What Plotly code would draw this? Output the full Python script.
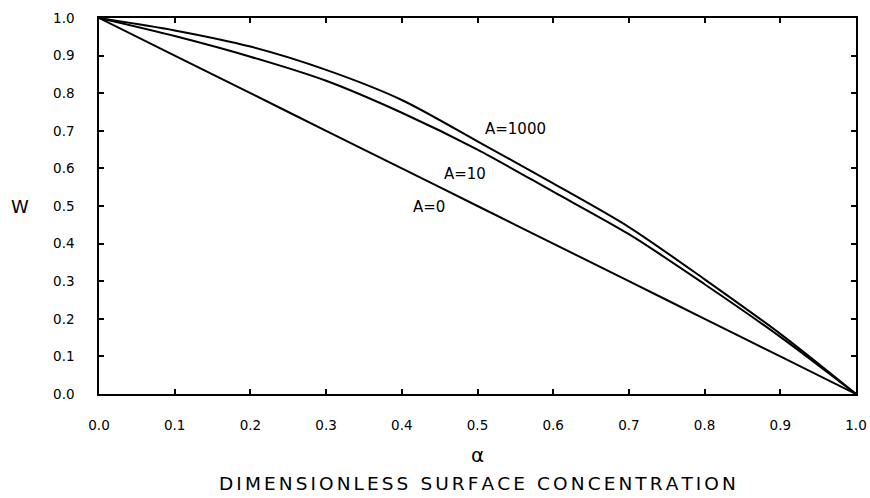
import plotly.graph_objects as go

alpha = [0.0, 0.1, 0.2, 0.3, 0.4, 0.5, 0.6, 0.7, 0.8, 0.9, 1.0]
w_a0 = [1.0, 0.90, 0.80, 0.70, 0.60, 0.50, 0.40, 0.30, 0.20, 0.10, 0.0]
w_a10 = [1.0, 0.952, 0.897, 0.833, 0.748, 0.65, 0.538, 0.425, 0.292, 0.152, 0.0]
w_a1000 = [1.0, 0.967, 0.924, 0.862, 0.782, 0.672, 0.56, 0.444, 0.305, 0.16, 0.0]
tick_vals = [0.0, 0.1, 0.2, 0.3, 0.4, 0.5, 0.6, 0.7, 0.8, 0.9, 1.0]
tick_text = ["0.0", "0.1", "0.2", "0.3", "0.4", "0.5", "0.6", "0.7", "0.8", "0.9", "1.0"]
curve_labels = [("A=1000", 0.55, 0.705), ("A=10", 0.483, 0.585), ("A=0", 0.436, 0.497)]
x_title_words = ["DIMENSIONLESS", "SURFACE", "CONCENTRATION"]

fig = go.Figure()
for ys in (w_a0, w_a10, w_a1000):
    fig.add_trace(go.Scatter(x=alpha, y=ys, mode="lines",
                             line=dict(color="black", width=2, shape="spline", smoothing=0.8),
                             showlegend=False, hoverinfo="skip"))

for txt, xv, yv in curve_labels:
    fig.add_annotation(x=xv, y=yv, text=txt, showarrow=False, xref="x", yref="y",
                       font=dict(family="DejaVu Sans", size=15, color="black"))

fig.add_annotation(x=-0.104, y=0.5, xref="paper", yref="paper", text="W", showarrow=False,
                   xanchor="center", yanchor="middle",
                   font=dict(family="DejaVu Sans", size=18, color="black"))
fig.add_annotation(x=0.5, y=-0.162, xref="paper", yref="paper", text="α", showarrow=False,
                   xanchor="center", yanchor="middle",
                   font=dict(family="DejaVu Sans", size=20, color="black"))

sp = "\u2006"
spaced = (sp + " " + sp).join(sp.join(w) for w in x_title_words)
fig.add_annotation(x=0.5, y=-0.237, xref="paper", yref="paper",
                   text=spaced, showarrow=False, xanchor="center", yanchor="middle",
                   font=dict(family="DejaVu Sans", size=18.5, color="black"))

axis_common = dict(range=[0, 1], tickvals=tick_vals, ticktext=tick_text, ticks="inside", ticklen=5,
                   tickwidth=1.5, tickcolor="black", showline=True, linecolor="black", linewidth=1.5,
                   mirror="ticks", showgrid=False, zeroline=False,
                   tickfont=dict(family="DejaVu Sans", size=13.5, color="black"))
fig.update_xaxes(**axis_common, ticklabelstandoff=18)
fig.update_yaxes(**axis_common, ticklabelstandoff=20)

fig.update_layout(width=870, height=498, margin=dict(l=99, r=14, t=18, b=104, autoexpand=False),
                  plot_bgcolor="white", paper_bgcolor="white")

fig.write_html("out.html", config={"displayModeBar": False},
               post_script="document.body.style.margin='0';document.body.style.overflow='hidden';")
